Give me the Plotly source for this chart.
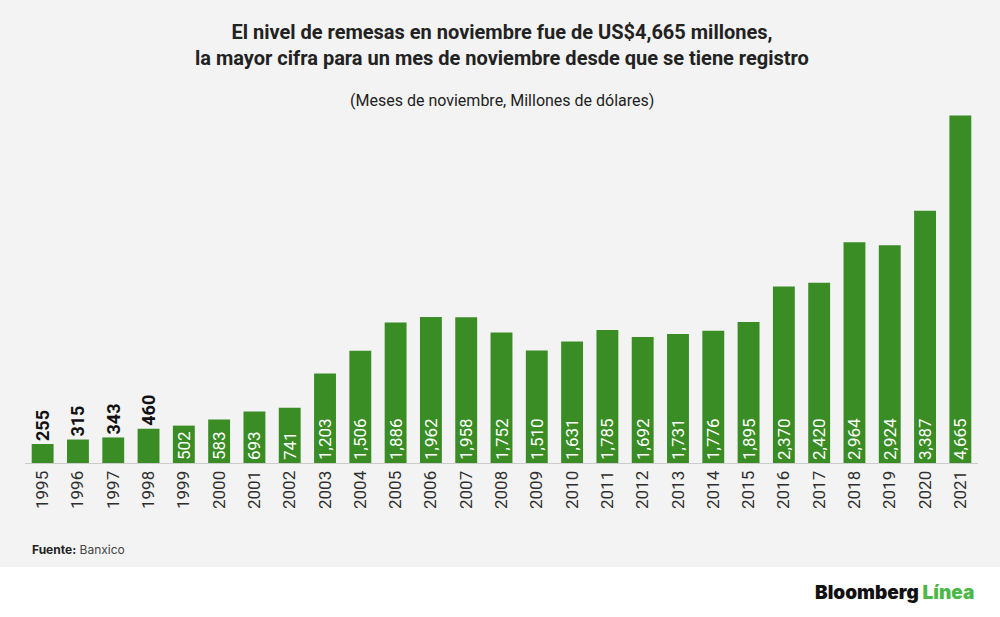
import plotly.graph_objects as go

# remesas de noviembre, millones de dolares (Banxico)
years = [str(y) for y in range(1995, 2022)]
values = [255, 315, 343, 460, 502, 583, 693, 741, 1203, 1506, 1886, 1962, 1958, 1752,
          1510, 1631, 1785, 1692, 1731, 1776, 1895, 2370, 2420, 2964, 2924, 3387, 4665]
labels = [f"{v:,}" for v in values]
# the first four bars are too short, their labels go above
positions = ['outside' if v < 500 else 'inside' for v in values]

bg = '#f3f3f3'
green = '#3a8c24'

fig = go.Figure()
fig.add_trace(go.Bar(
    x=years, y=values, text=labels, textposition=positions,
    textangle=-90, insidetextanchor='start', constraintext='none', cliponaxis=False,
    insidetextfont=dict(family='Roboto', size=17, color='white'),
    outsidetextfont=dict(family='Roboto', size=18, color='#111111', weight='bold'),
    marker_color=green, marker_line_width=0,
))

fig.update_layout(
    width=1000, height=617,
    margin=dict(l=25, r=22, t=113, b=154),
    paper_bgcolor='white', plot_bgcolor=bg,
    bargap=0.38, showlegend=False,
    font=dict(family='Roboto', color='#222222'),
    xaxis=dict(type='category', tickangle=-90, showgrid=False, ticks='',
               showline=True, linecolor='#cccccc', linewidth=1,
               tickfont=dict(size=17, color='#2e2e2e')),
    yaxis=dict(range=[0, 4700], visible=False, showgrid=False),
)

# gray panel behind the chart, white footer under it
fig.add_shape(type='rect', xref='paper', yref='paper', x0=-0.03, x1=1.03,
              y0=-0.297, y1=1.33, fillcolor=bg, line_width=0, layer='below')

fig.add_annotation(xref='paper', yref='paper', x=0.5, y=1.323, yshift=-45, yanchor='middle',
                   text='<b>El nivel de remesas en noviembre fue de US$4,665 millones,<br>'
                        'la mayor cifra para un mes de noviembre desde que se tiene registro</b>',
                   showarrow=False, font=dict(size=20, color='#222222'), align='center')
fig.add_annotation(xref='paper', yref='paper', x=0.5, y=1.323, yshift=-101, yanchor='middle',
                   text='(Meses de noviembre, Millones de dólares)',
                   showarrow=False, font=dict(size=16, color='#222222'))
fig.add_annotation(xref='paper', yref='paper', x=0.005, xanchor='left', y=-0.246, yanchor='middle',
                   text="<b style='color:#222222'>Fuente:</b> Banxico", showarrow=False,
                   font=dict(family='Inter', size=12, color='#444444'))
fig.add_annotation(xref='paper', yref='paper', x=0.998, xanchor='right', y=-0.371, yanchor='middle',
                   text="<span style='color:#111111'>Bloomberg</span> "
                        "<span style='color:#4cb847'>Línea</span>",
                   showarrow=False, font=dict(family='Inter', size=19, weight=900))

fig.write_html("out.html", config={'displayModeBar': False},
               post_script="document.body.style.margin='0';")
